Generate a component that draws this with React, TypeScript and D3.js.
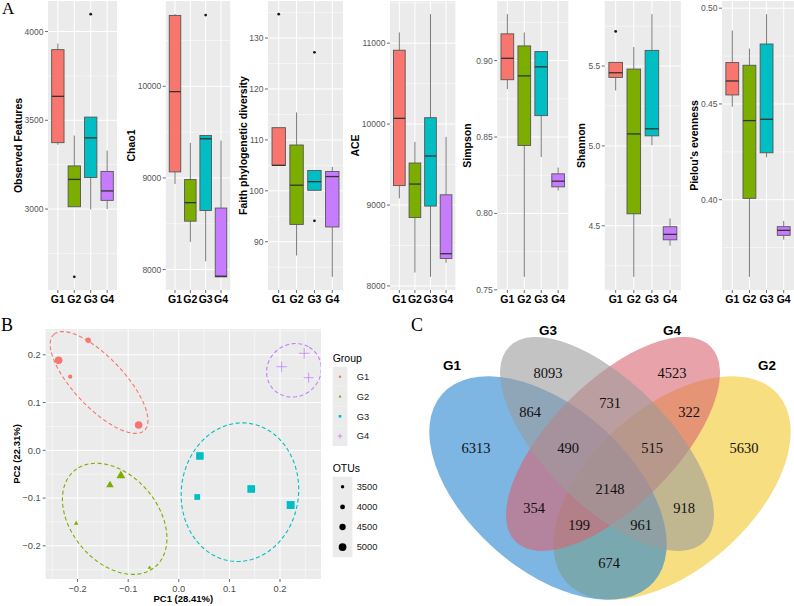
import React from 'react';
import * as d3 from 'd3';

const W = 794;
const H = 606;
const sans = "'Liberation Sans', Arial, sans-serif";
const serif = "'Liberation Serif', 'Times New Roman', serif";

const groups = ['G1', 'G2', 'G3', 'G4'];
const groupColors = ['#F8766D', '#7CAE00', '#00BFC4', '#C77CFF'];

// alpha diversity, per group: [lower whisker, q1, median, q3, upper whisker]
const observedStats = [
  [3362, 3374, 3635, 3898, 3932],
  [3013, 3013, 3167, 3243, 3414],
  [2998, 3178, 3401, 3518, 3518],
  [3000, 3049, 3102, 3212, 3329],
];
const observedOutliers = [[], [2618], [4098], []];
const observedTicks = [3000, 3500, 4000];

const chao1Stats = [
  [8934, 9066, 9942, 10774, 10788],
  [8302, 8528, 8730, 8982, 9383],
  [8090, 8645, 9427, 9463, 9463],
  [7920, 7920, 7927, 8671, 9408],
];
const chao1Outliers = [[], [], [10778], []];
const chao1Ticks = [8000, 9000, 10000];

const faithStats = [
  [105.0, 105.0, 105.0, 112.4, 112.4],
  [87.3, 93.4, 101.1, 109.0, 115.4],
  [100.1, 100.1, 101.8, 104.0, 104.0],
  [83.1, 92.9, 102.8, 103.8, 104.7],
];
const faithOutliers = [[134.7], [], [127.2, 94.1], []];
const faithTicks = [90, 100, 110, 120, 130];

const aceStats = [
  [9083, 9240, 10071, 10913, 11133],
  [8166, 8845, 9259, 9519, 9780],
  [8112, 8987, 9606, 10079, 11359],
  [8286, 8340, 8398, 9126, 9842],
];
const aceOutliers = [[], [], [], []];
const aceTicks = [8000, 9000, 10000, 11000];

const simpsonStats = [
  [0.8814, 0.8875, 0.9015, 0.9175, 0.9304],
  [0.7585, 0.8445, 0.89, 0.9096, 0.9184],
  [0.8369, 0.864, 0.8959, 0.9059, 0.9059],
  [0.815, 0.8174, 0.8211, 0.8259, 0.83],
];
const simpsonOutliers = [[], [], [], []];
const simpsonTicks = [0.75, 0.8, 0.85, 0.9];

const shannonStats = [
  [5.347, 5.429, 5.458, 5.523, 5.523],
  [4.18, 4.575, 5.075, 5.481, 5.619],
  [5.004, 5.063, 5.107, 5.598, 5.825],
  [4.375, 4.412, 4.446, 4.494, 4.546],
];
const shannonOutliers = [[5.717], [], [], []];
const shannonTicks = [4.5, 5.0, 5.5];

const pielouStats = [
  [0.4486, 0.4547, 0.462, 0.4716, 0.4883],
  [0.3597, 0.4007, 0.4413, 0.4702, 0.4789],
  [0.4221, 0.4245, 0.442, 0.4813, 0.4969],
  [0.3791, 0.3814, 0.384, 0.3859, 0.3889],
];
const pielouOutliers = [[], [], [], []];
const pielouTicks = [0.4, 0.45, 0.5];

// PCoA samples
const pcaGroup = [0, 0, 0, 0, 1, 1, 1, 1, 2, 2, 2, 2, 3, 3, 3];
const pc1 = [-0.2375, -0.179, -0.2146, -0.0794, -0.136, -0.1144, -0.2028, -0.0577, 0.0417, 0.0364, 0.1431, 0.221, 0.2032, 0.2478, 0.2565];
const pc2 = [0.1885, 0.2304, 0.1541, 0.053, -0.0727, -0.0532, -0.1529, -0.2459, -0.0119, -0.0978, -0.081, -0.1146, 0.175, 0.2031, 0.152];
const otus = [4950, 4200, 3800, 4900, 4500, 4850, 3650, 3450, 4900, 4300, 4950, 5050, 4300, 4400, 4200];
const otuBreaks = [3500, 4000, 4500, 5000];
const pcTicks = [-0.2, -0.1, 0.0, 0.1, 0.2];

// 95% ellipse fits per group: centre, semi-axes (PC units), major-axis angle
const ellipseCx = [-0.1575, -0.1267, 0.1208, 0.2275];
const ellipseCy = [0.142, -0.1435, -0.0877, 0.1675];
const ellipseA = [0.1346, 0.1287, 0.1453, 0.057];
const ellipseB = [0.0508, 0.0874, 0.1159, 0.053];
const ellipseAngle = [131.2, 125.6, 85, 60];

// shared OTUs
const vennSets = ['G1', 'G3', 'G4', 'G2'];
const vennRegions = ['G1', 'G3', 'G4', 'G2', 'G1G3', 'G3G4', 'G4G2', 'G1G3G4', 'G3G4G2', 'G1G3G4G2', 'G1G4', 'G3G2', 'G1G4G2', 'G1G3G2', 'G1G2'];
const vennCounts = [6313, 8093, 4523, 5630, 864, 731, 322, 490, 515, 2148, 354, 918, 199, 961, 674];

const regionPos: Record<string, [number, number]> = {
  G1: [476, 448], G3: [548, 373], G4: [672, 373], G2: [744, 448],
  G1G3: [530, 412], G3G4: [610, 403], G4G2: [689, 412],
  G1G3G4: [568, 448], G3G4G2: [652, 448], G1G3G4G2: [610, 489],
  G1G4: [534, 508], G3G2: [684, 508], G1G4G2: [579, 525], G1G3G2: [641, 525], G1G2: [609, 563],
};

const vennShapes: Record<string, { cx: number; cy: number; rx: number; ry: number; rot: number; fill: string; lx: number; ly: number }> = {
  G1: { cx: 548, cy: 488, rx: 141.5, ry: 81, rot: 41.6, fill: '#2684D0', lx: 452, ly: 365 },
  G3: { cx: 607, cy: 444, rx: 138, ry: 62, rot: 45, fill: '#9B9B9B', lx: 548, ly: 330 },
  G4: { cx: 613, cy: 444, rx: 138, ry: 62, rot: -45, fill: '#D96470', lx: 672, ly: 330 },
  G2: { cx: 672, cy: 488, rx: 141.5, ry: 81, rot: -41.6, fill: '#F2C82B', lx: 767, ly: 365 },
};
const vennDrawOrder = ['G2', 'G1', 'G4', 'G3'];

function paddedExtent(values: number[]): [number, number] {
  const [lo, hi] = d3.extent(values) as [number, number];
  const pad = (hi - lo) * 0.05;
  return [lo - pad, hi + pad];
}

function minorBreaks(ticks: number[], domain: number[]) {
  const step = ticks[1] - ticks[0];
  const out: number[] = [];
  for (let i = -1; i < ticks.length; i++) {
    const m = ticks[0] + (i + 0.5) * step;
    if (m >= domain[0] && m <= domain[1]) out.push(m);
  }
  return out;
}

type PanelProps = {
  title: string;
  stats: number[][];
  outliers: number[][];
  ticks: number[];
  fmt: string;
  left: number;
  right: number;
  titleX: number;
};

function BoxPanel({ title, stats, outliers, ticks, fmt, left, right, titleX }: PanelProps) {
  const top = 1;
  const bottom = 290;
  const domain = paddedExtent(stats.flat().concat(outliers.flat()));
  const y = d3.scaleLinear().domain(domain).range([bottom, top]);
  const x = d3.scalePoint<string>().domain(groups).range([left, right]).padding(0.6);
  const bw = x.step() * 0.75;
  const format = d3.format(fmt);

  return (
    <g>
      <rect x={left} y={top} width={right - left} height={bottom - top} fill="#EBEBEB" />
      {minorBreaks(ticks, domain).map((v) => (
        <line key={'m' + v} x1={left} x2={right} y1={y(v)} y2={y(v)} stroke="#fff" strokeWidth={0.5} />
      ))}
      {ticks.map((v) => (
        <line key={'t' + v} x1={left} x2={right} y1={y(v)} y2={y(v)} stroke="#fff" strokeWidth={1} />
      ))}
      {groups.map((g) => (
        <line key={'v' + g} x1={x(g)} x2={x(g)} y1={top} y2={bottom} stroke="#fff" strokeWidth={1} />
      ))}
      {groups.map((g, i) => {
        const [lw, q1, med, q3, uw] = stats[i];
        const cx = x(g) as number;
        return (
          <g key={g}>
            <line x1={cx} x2={cx} y1={y(uw)} y2={y(q3)} stroke="#7a7a7a" strokeWidth={1} />
            <line x1={cx} x2={cx} y1={y(q1)} y2={y(lw)} stroke="#7a7a7a" strokeWidth={1} />
            <rect x={cx - bw / 2} y={y(q3)} width={bw} height={Math.max(y(q1) - y(q3), 0.5)}
              fill={groupColors[i]} stroke="#555" strokeWidth={0.9} />
            <line x1={cx - bw / 2} x2={cx + bw / 2} y1={y(med)} y2={y(med)} stroke="#333" strokeWidth={1.3} />
            {outliers[i].map((o, j) => (
              <circle key={j} cx={cx} cy={y(o)} r={1.4} fill="#1a1a1a" />
            ))}
          </g>
        );
      })}
      {ticks.map((v) => (
        <g key={'l' + v}>
          <line x1={left - 3} x2={left} y1={y(v)} y2={y(v)} stroke="#444" strokeWidth={0.8} />
          <text x={left - 4.5} y={y(v)} dy="0.35em" textAnchor="end" fontFamily={sans} fontSize={8.5} fill="#555">
            {format(v)}
          </text>
        </g>
      ))}
      {groups.map((g) => (
        <g key={'x' + g}>
          <line x1={x(g)} x2={x(g)} y1={bottom} y2={bottom + 3} stroke="#444" strokeWidth={0.8} />
          <text x={x(g)} y={303} textAnchor="middle" fontFamily={sans} fontWeight="bold" fontSize={10.5} fill="#000">
            {g}
          </text>
        </g>
      ))}
      <text transform={`translate(${titleX},${(top + bottom) / 2}) rotate(-90)`} dy="0.35em" textAnchor="middle"
        fontFamily={sans} fontWeight="bold" fontSize={10.5} fill="#000">
        {title}
      </text>
    </g>
  );
}

function Marker({ shape, cx, cy, r, color }: { shape: number; cx: number; cy: number; r: number; color: string }) {
  if (shape === 0) return <circle cx={cx} cy={cy} r={r} fill={color} />;
  if (shape === 1) {
    const s = r * 2.4;
    const h = (s * Math.sqrt(3)) / 2;
    return <path d={`M${cx},${cy - (2 * h) / 3}L${cx + s / 2},${cy + h / 3}L${cx - s / 2},${cy + h / 3}Z`} fill={color} />;
  }
  if (shape === 2) return <rect x={cx - r} y={cy - r} width={2 * r} height={2 * r} fill={color} />;
  const l = r * 1.8;
  return (
    <g stroke={color} strokeWidth={0.8}>
      <line x1={cx - l} x2={cx + l} y1={cy} y2={cy} />
      <line x1={cx} x2={cx} y1={cy - l} y2={cy + l} />
    </g>
  );
}

function PcoaPanel() {
  const left = 45.7, right = 321, top = 329, bottom = 579;
  const xDomain = [-0.263, 0.281];
  const yDomain = [-0.2695, 0.254];
  const x = d3.scaleLinear().domain(xDomain).range([left, right]);
  const y = d3.scaleLinear().domain(yDomain).range([bottom, top]);
  const size = d3.scaleLinear().domain([3500, 5000]).range([1.7, 3.9]);
  const fmt = d3.format('.1f');
  const line = d3.line<[number, number]>().x((d) => x(d[0])).y((d) => y(d[1])).curve(d3.curveLinearClosed);

  const ellipsePath = (k: number) => {
    const th = (ellipseAngle[k] * Math.PI) / 180;
    const pts: [number, number][] = d3.range(120).map((i) => {
      const t = (i / 120) * 2 * Math.PI;
      const u = ellipseA[k] * Math.cos(t);
      const v = ellipseB[k] * Math.sin(t);
      return [ellipseCx[k] + u * Math.cos(th) - v * Math.sin(th), ellipseCy[k] + u * Math.sin(th) + v * Math.cos(th)];
    });
    return line(pts) as string;
  };

  const keyH = 19.8;
  const keyX = 332.7;
  const keyW = 14.7;

  return (
    <g>
      <defs>
        <clipPath id="pcoa-clip">
          <rect x={left} y={top} width={right - left} height={bottom - top} />
        </clipPath>
      </defs>
      <rect x={left} y={top} width={right - left} height={bottom - top} fill="#EBEBEB" />
      {minorBreaks(pcTicks, xDomain).map((v) => (
        <line key={'mx' + v} x1={x(v)} x2={x(v)} y1={top} y2={bottom} stroke="#fff" strokeWidth={0.5} />
      ))}
      {minorBreaks(pcTicks, yDomain).map((v) => (
        <line key={'my' + v} x1={left} x2={right} y1={y(v)} y2={y(v)} stroke="#fff" strokeWidth={0.5} />
      ))}
      {pcTicks.map((v) => (
        <g key={'g' + v}>
          <line x1={x(v)} x2={x(v)} y1={top} y2={bottom} stroke="#fff" strokeWidth={1} />
          <line x1={left} x2={right} y1={y(v)} y2={y(v)} stroke="#fff" strokeWidth={1} />
        </g>
      ))}
      <g clipPath="url(#pcoa-clip)">
        {groups.map((g, k) => (
          <path key={g} d={ellipsePath(k)} fill="none" stroke={groupColors[k]} strokeWidth={1.1} strokeDasharray="4 2.6" />
        ))}
        {pc1.map((v, i) => (
          <Marker key={i} shape={pcaGroup[i]} cx={x(v)} cy={y(pc2[i])} r={size(otus[i])} color={groupColors[pcaGroup[i]]} />
        ))}
      </g>
      {pcTicks.map((v) => (
        <g key={'t' + v}>
          <line x1={x(v)} x2={x(v)} y1={bottom} y2={bottom + 3} stroke="#444" strokeWidth={0.8} />
          <text x={x(v)} y={591.5} textAnchor="middle" fontFamily={sans} fontSize={9.3} fill="#4D4D4D">{fmt(v)}</text>
          <line x1={left - 3} x2={left} y1={y(v)} y2={y(v)} stroke="#444" strokeWidth={0.8} />
          <text x={left - 5} y={y(v)} dy="0.35em" textAnchor="end" fontFamily={sans} fontSize={9.3} fill="#4D4D4D">{fmt(v)}</text>
        </g>
      ))}
      <text x={(left + right) / 2} y={602} textAnchor="middle" fontFamily={sans} fontWeight="bold" fontSize={9.5}>
        PC1 (28.41%)
      </text>
      <text transform={`translate(16.7,${(top + bottom) / 2}) rotate(-90)`} dy="0.35em" textAnchor="middle"
        fontFamily={sans} fontWeight="bold" fontSize={9.5}>
        PC2 (22.31%)
      </text>

      <text x={keyX} y={362} fontFamily={sans} fontSize={10.5}>Group</text>
      {groups.map((g, i) => {
        const cy = 366.8 + keyH * i + keyH / 2;
        return (
          <g key={'lg' + g}>
            <rect x={keyX} y={366.8 + keyH * i} width={keyW} height={keyH} fill="#EBEBEB" />
            <Marker shape={i} cx={keyX + keyW / 2} cy={cy} r={1.3} color={groupColors[i]} />
            <text x={356.7} y={cy} dy="0.35em" fontFamily={sans} fontSize={9.3} fill="#1a1a1a">{g}</text>
          </g>
        );
      })}
      <text x={keyX} y={472} fontFamily={sans} fontSize={10.5}>OTUs</text>
      {otuBreaks.map((b, i) => {
        const cy = 476.8 + 20.1 * i + 10;
        return (
          <g key={'lo' + b}>
            <rect x={keyX} y={476.8 + 20.1 * i} width={keyW + 5} height={20.1} fill="#EBEBEB" />
            <circle cx={keyX + (keyW + 5) / 2} cy={cy} r={size(b)} fill="#000" />
            <text x={356.7} y={cy} dy="0.35em" fontFamily={sans} fontSize={9.3} fill="#1a1a1a">{b}</text>
          </g>
        );
      })}
    </g>
  );
}

function VennPanel() {
  return (
    <g>
      {vennDrawOrder.map((s) => {
        const e = vennShapes[s];
        return (
          <ellipse key={s} cx={0} cy={0} rx={e.rx} ry={e.ry} fill={e.fill} fillOpacity={0.6}
            transform={`translate(${e.cx},${e.cy}) rotate(${e.rot})`} />
        );
      })}
      {vennSets.map((s) => (
        <text key={'n' + s} x={vennShapes[s].lx} y={vennShapes[s].ly} dy="0.35em" textAnchor="middle"
          fontFamily={sans} fontWeight="bold" fontSize={13.5} fill="#000">
          {s}
        </text>
      ))}
      {vennRegions.map((r, i) => (
        <text key={r} x={regionPos[r][0]} y={regionPos[r][1]} dy="0.35em" textAnchor="middle"
          fontFamily={serif} fontSize={14.5} fill="#111">
          {vennCounts[i]}
        </text>
      ))}
    </g>
  );
}

const panels: PanelProps[] = [
  { title: 'Observed Features', stats: observedStats, outliers: observedOutliers, ticks: observedTicks, fmt: 'd', left: 48, right: 117, titleX: 18.3 },
  { title: 'Chao1', stats: chao1Stats, outliers: chao1Outliers, ticks: chao1Ticks, fmt: 'd', left: 165.8, right: 230.2, titleX: 131 },
  { title: 'Faith phylogenetic diversity', stats: faithStats, outliers: faithOutliers, ticks: faithTicks, fmt: 'd', left: 268, right: 343, titleX: 243.3 },
  { title: 'ACE', stats: aceStats, outliers: aceOutliers, ticks: aceTicks, fmt: 'd', left: 390, right: 455.4, titleX: 355.7 },
  { title: 'Simpson', stats: simpsonStats, outliers: simpsonOutliers, ticks: simpsonTicks, fmt: '.2f', left: 497.2, right: 568.3, titleX: 467.3 },
  { title: 'Shannon', stats: shannonStats, outliers: shannonOutliers, ticks: shannonTicks, fmt: '.1f', left: 604.8, right: 680.9, titleX: 581 },
  { title: "Pielou's evenness", stats: pielouStats, outliers: pielouOutliers, ticks: pielouTicks, fmt: '.2f', left: 722, right: 794, titleX: 694.3 },
];

export default function App() {
  return (
    <svg width={W} height={H} viewBox={`0 0 ${W} ${H}`} style={{ position: 'absolute', left: 0, top: 0, background: '#fff' }}>
      <rect width={W} height={H} fill="#fff" />
      {panels.map((p) => (
        <BoxPanel key={p.title} {...p} />
      ))}
      <PcoaPanel />
      <VennPanel />
      <text x={2} y={14} fontFamily={serif} fontSize={17}>A</text>
      <text x={1} y={331} fontFamily={serif} fontSize={18}>B</text>
      <text x={411} y={331} fontFamily={serif} fontSize={18}>C</text>
    </svg>
  );
}
